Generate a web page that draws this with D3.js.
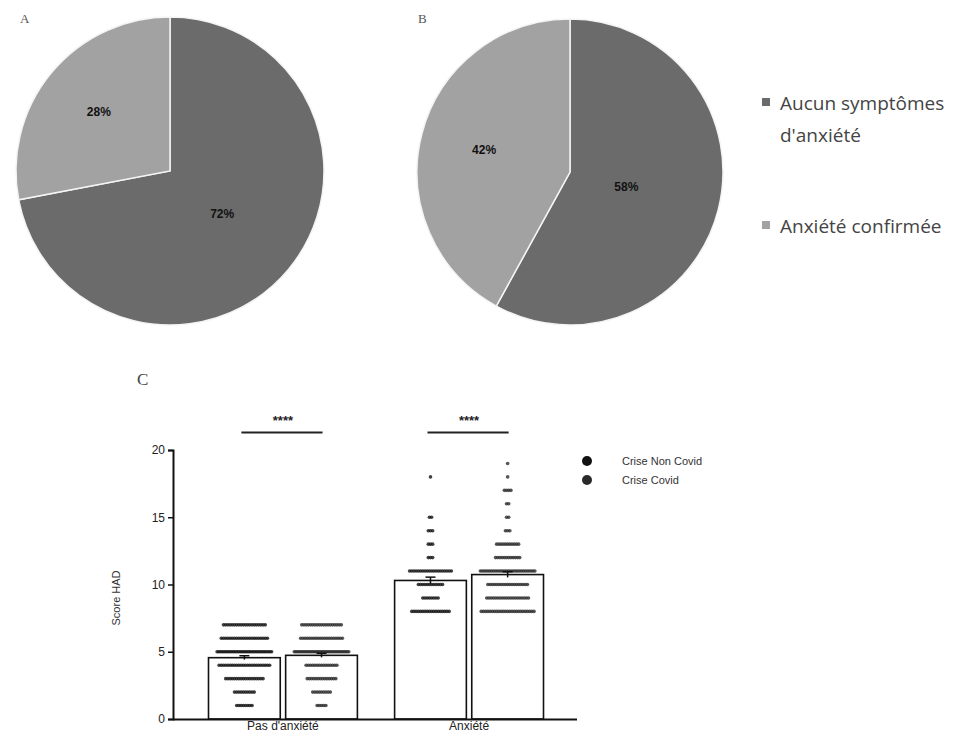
<!DOCTYPE html>
<html>
<head>
<meta charset="utf-8">
<script src="https://cdn.jsdelivr.net/npm/d3@7/dist/d3.min.js"></script>
<style>
  html, body { margin: 0; padding: 0; background: #fff; }
  svg { display: block; }
</style>
</head>
<body>
<svg id="fig" width="958" height="735"></svg>
<script>
// Pie panels: share of students with / without anxiety
const pieCategories = ["Aucun symptômes d'anxiété", "Anxiété confirmée"];
const pieA = [72, 28];
const pieB = [58, 42];

// Panel C: HAD scores per group and period, as [score, number of students]
const groups = ["Pas d'anxiété", "Anxiété"];
const periods = ["Crise Non Covid", "Crise Covid"];
const noAnxNonCovid = [[1, 8], [2, 10], [3, 18], [4, 24], [5, 34], [6, 22], [7, 20]];
const noAnxCovid = [[1, 5], [2, 9], [3, 14], [4, 15], [5, 38], [6, 20], [7, 19]];
const anxNonCovid = [[8, 18], [9, 8], [10, 12], [11, 20], [12, 3], [13, 3], [14, 3], [15, 2], [18, 1]];
const anxCovid = [[8, 25], [9, 20], [10, 19], [11, 30], [12, 12], [13, 11], [14, 3], [15, 2], [16, 2], [17, 4], [18, 1], [19, 1]];
const yTicks = [0, 5, 10, 15, 20];
const significance = ["****", "****"];

const svg = d3.select("#fig");
const sansFont = "'Liberation Sans', Arial, sans-serif";
const pieColors = d3.scaleOrdinal().domain(pieCategories).range(["#6b6b6b", "#a2a2a2"]);

// ---------- pies ----------
function drawPie(values, cx, cy, r, letter, letterX, letterY, labelFactors) {
  const g = svg.append("g").attr("transform", `translate(${cx},${cy})`);
  const slices = d3.pie().sort(null)(values)
    .map((s, i) => Object.assign(s, { key: pieCategories[i] }));
  const arc = d3.arc().innerRadius(0).outerRadius(r);
  g.selectAll("path.slice").data(slices).join("path")
    .attr("class", "slice")
    .attr("d", arc)
    .attr("fill", d => pieColors(d.key))
    .attr("stroke", "#f4f4f4")
    .attr("stroke-width", 1.5);
  g.selectAll("text.pct").data(slices).join("text")
    .attr("class", "pct")
    .attr("transform", (d, i) => {
      const lr = r * labelFactors[i];
      const c = d3.arc().innerRadius(lr).outerRadius(lr).centroid(d);
      return `translate(${c[0]},${c[1]})`;
    })
    .attr("text-anchor", "middle")
    .attr("dy", "0.35em")
    .style("font-family", sansFont)
    .style("font-size", "12px")
    .style("font-weight", "bold")
    .attr("fill", "#111")
    .text(d => d.data + "%");
  svg.append("text")
    .attr("x", letterX).attr("y", letterY)
    .style("font-family", "'Liberation Serif', 'DejaVu Serif', serif")
    .style("font-size", "13px")
    .attr("fill", "#555")
    .text(letter);
}
drawPie(pieA, 170, 171, 154, "A", 20, 23, [0.44, 0.6]);
drawPie(pieB, 570, 172, 153, "B", 418, 23, [0.38, 0.58]);

// pie legend
const legend = svg.append("g").attr("transform", "translate(762,0)");
const legendRows = [
  { key: pieCategories[0], lines: ["Aucun symptômes", "d'anxiété"], y: 110 },
  { key: pieCategories[1], lines: ["Anxiété confirmée"], y: 233 }
];
legendRows.forEach(row => {
  legend.append("rect")
    .attr("x", 0).attr("y", row.y - 12).attr("width", 8).attr("height", 8)
    .attr("fill", pieColors(row.key));
  row.lines.forEach((line, i) => {
    legend.append("text")
      .attr("x", 18).attr("y", row.y + i * 32)
      .style("font-family", "'Open Sans', sans-serif")
      .style("font-size", "19px")
      .attr("fill", "#444")
      .text(line);
  });
});

// ---------- panel C ----------
const series = [
  [noAnxNonCovid, noAnxCovid],
  [anxNonCovid, anxCovid]
];
const y = d3.scaleLinear().domain([0, 20]).range([719, 450]);
const xOuter = d3.scaleBand().domain(groups).range([175, 577]).paddingInner(0.2).paddingOuter(0.18);
const xInner = d3.scaleBand().domain(periods).range([0, xOuter.bandwidth()]).paddingInner(0.07);
const dotColor = d3.scaleOrdinal().domain(periods).range(["#111", "#2a2a2a"]);

const cPanel = svg.append("g");

function stats(rows) {
  let n = 0, s = 0, s2 = 0;
  rows.forEach(([v, c]) => { n += c; s += v * c; s2 += v * v * c; });
  const mean = s / n;
  const sd = Math.sqrt((s2 - n * mean * mean) / (n - 1));
  return { mean, sem: sd / Math.sqrt(n) };
}

const bars = [];
groups.forEach((grp, gi) => {
  periods.forEach((per, pi) => {
    const rows = series[gi][pi];
    const st = stats(rows);
    bars.push({ grp, per, rows, mean: st.mean, sem: st.sem,
      x0: xOuter(grp) + xInner(per), w: xInner.bandwidth() });
  });
});

// bars (mean)
cPanel.selectAll("rect.bar").data(bars).join("rect")
  .attr("class", "bar")
  .attr("x", d => d.x0)
  .attr("y", d => y(d.mean))
  .attr("width", d => d.w)
  .attr("height", d => y(0) - y(d.mean))
  .attr("fill", "#fff")
  .attr("stroke", "#111")
  .attr("stroke-width", 1.6);

// individual scores, spread horizontally at each score
const dots = [];
bars.forEach(b => {
  const cx = b.x0 + b.w / 2;
  const maxSpan = b.w * 0.76;
  b.rows.forEach(([v, c]) => {
    let step = 2.2;
    if ((c - 1) * step > maxSpan) step = maxSpan / (c - 1);
    for (let i = 0; i < c; i++) {
      dots.push({ per: b.per, v, x: cx + (i - (c - 1) / 2) * step });
    }
  });
});
cPanel.selectAll("circle.pt").data(dots).join("circle")
  .attr("class", "pt")
  .attr("cx", d => d.x)
  .attr("cy", d => y(d.v))
  .attr("r", 1.8)
  .attr("fill", d => dotColor(d.per))
  .attr("fill-opacity", 0.8);

// SEM error bars
const eb = cPanel.selectAll("g.err").data(bars).join("g").attr("class", "err");
eb.append("line")
  .attr("x1", d => d.x0 + d.w / 2).attr("x2", d => d.x0 + d.w / 2)
  .attr("y1", d => y(d.mean - d.sem)).attr("y2", d => y(d.mean + d.sem))
  .attr("stroke", "#111").attr("stroke-width", 1.5);
eb.append("line")
  .attr("x1", d => d.x0 + d.w / 2 - 5).attr("x2", d => d.x0 + d.w / 2 + 5)
  .attr("y1", d => y(d.mean + d.sem)).attr("y2", d => y(d.mean + d.sem))
  .attr("stroke", "#111").attr("stroke-width", 1.5);

// axes
const yAxis = cPanel.append("g")
  .attr("transform", "translate(173,0)")
  .call(d3.axisLeft(y).tickValues(yTicks).tickSize(5).tickPadding(3));
const xAxis = cPanel.append("g")
  .attr("transform", `translate(0,${y(0)})`)
  .call(d3.axisBottom(xOuter).tickSize(0).tickPadding(2));
[yAxis, xAxis].forEach(a => {
  a.select(".domain").attr("stroke", "#111").attr("stroke-width", 2);
  a.selectAll(".tick line").attr("stroke", "#111").attr("stroke-width", 1.5);
  a.selectAll(".tick text").style("font-family", sansFont).style("font-size", "12px").attr("fill", "#222");
});
xAxis.select(".domain").attr("d", `M173,0.5H577`);

cPanel.append("text")
  .attr("transform", `translate(120,${y(9)}) rotate(-90)`)
  .attr("text-anchor", "middle")
  .style("font-family", sansFont)
  .style("font-size", "11px")
  .attr("fill", "#333")
  .text("Score HAD");

// significance brackets between the two periods of each group
groups.forEach((grp, gi) => {
  const a = bars[gi * 2], b = bars[gi * 2 + 1];
  const xa = a.x0 + a.w / 2, xb = b.x0 + b.w / 2;
  cPanel.append("line")
    .attr("x1", xa - 3).attr("x2", xb + 1)
    .attr("y1", y(21.3)).attr("y2", y(21.3))
    .attr("stroke", "#222").attr("stroke-width", 2);
  cPanel.append("text")
    .attr("x", (xa + xb) / 2).attr("y", y(21.85))
    .attr("text-anchor", "middle")
    .style("font-family", sansFont)
    .style("font-size", "13px")
    .style("font-weight", "bold")
    .attr("fill", "#222")
    .text(significance[gi]);
});

// series legend
const cLegend = cPanel.append("g").attr("transform", "translate(587,461)");
periods.forEach((per, i) => {
  cLegend.append("circle").attr("cx", 0).attr("cy", i * 19).attr("r", 5).attr("fill", dotColor(per));
  cLegend.append("text")
    .attr("x", 35).attr("y", i * 19).attr("dy", "0.35em")
    .style("font-family", sansFont)
    .style("font-size", "11px")
    .attr("fill", "#333")
    .text(per);
});

svg.append("text")
  .attr("x", 137).attr("y", 385)
  .style("font-family", "'Liberation Serif', 'DejaVu Serif', serif")
  .style("font-size", "17px")
  .attr("fill", "#444")
  .text("C");
</script>
</body>
</html>
